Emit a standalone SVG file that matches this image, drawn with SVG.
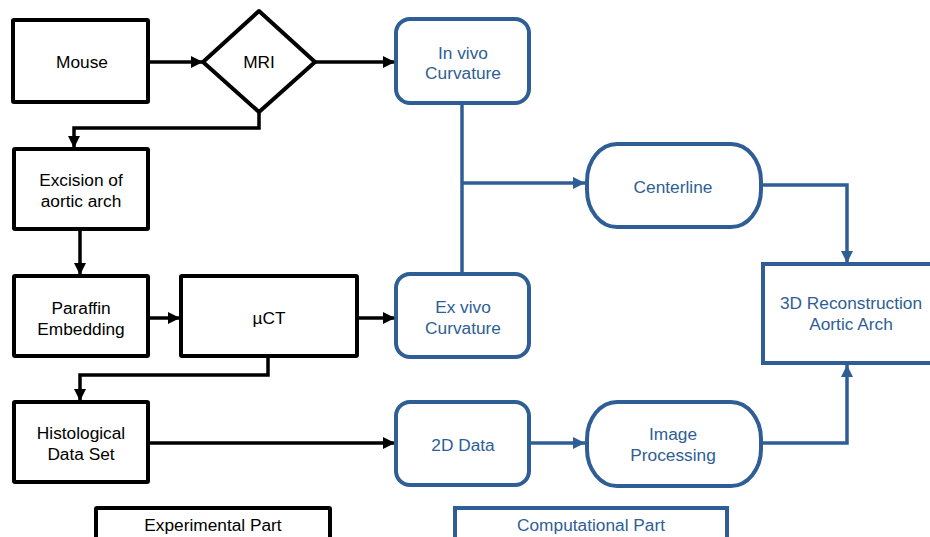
<svg xmlns="http://www.w3.org/2000/svg" width="930" height="537" viewBox="0 0 930 537">
<style>
text{font-family:"Liberation Sans",Arial,sans-serif;font-size:17.3px;text-anchor:middle}
.k{fill:#fff;stroke:#000;stroke-width:4;stroke-linejoin:round}
.b{fill:#fff;stroke:#2E5E95;stroke-width:4}
.kt{fill:#000}
.bt{fill:#2E5E95}
.kl{fill:none;stroke:#000;stroke-width:3.5}
.bl{fill:none;stroke:#2E5E95;stroke-width:3.5}
</style>
<defs>
<marker id="ak" markerUnits="userSpaceOnUse" markerWidth="14" markerHeight="14" refX="13" refY="7" orient="auto"><path d="M1,1 L13,7 L1,13 Z" fill="#000"/></marker>
<marker id="ab" markerUnits="userSpaceOnUse" markerWidth="14" markerHeight="14" refX="13" refY="7" orient="auto"><path d="M1,1 L13,7 L1,13 Z" fill="#2E5E95"/></marker>
</defs>
<g id="connectors">
<path class="kl" d="M150,62 H203" marker-end="url(#ak)"/>
<path class="kl" d="M315,62 H395" marker-end="url(#ak)"/>
<path class="kl" d="M259,112 V128 H74 V148" marker-end="url(#ak)"/>
<path class="kl" d="M80,230 V275" marker-end="url(#ak)"/>
<path class="kl" d="M150,318 H180" marker-end="url(#ak)"/>
<path class="kl" d="M359,318 H395" marker-end="url(#ak)"/>
<path class="kl" d="M268,357 V375 H80 V401" marker-end="url(#ak)"/>
<path class="kl" d="M150,443 H395" marker-end="url(#ak)"/>
<path class="bl" d="M462,105 V273"/>
<path class="bl" d="M462,183 H585" marker-end="url(#ab)"/>
<path class="bl" d="M762,185 H847 V263" marker-end="url(#ab)"/>
<path class="bl" d="M531,443 H585" marker-end="url(#ab)"/>
<path class="bl" d="M762,443 H847 V365" marker-end="url(#ab)"/>
</g>
<g id="mouse"><rect class="k" x="13" y="20" width="135" height="82" rx="1"/><text class="kt" x="82" y="68">Mouse</text></g>
<g id="mri"><path class="k" d="M259,11 L315,62 L259,112 L203,62 Z"/><text class="kt" x="259" y="68">MRI</text></g>
<g id="excision"><rect class="k" x="14" y="149" width="134" height="80" rx="1"/><text class="kt" x="81" y="186">Excision of</text><text class="kt" x="81" y="207">aortic arch</text></g>
<g id="paraffin"><rect class="k" x="14" y="276" width="134" height="80" rx="1"/><text class="kt" x="81" y="314">Paraffin</text><text class="kt" x="81" y="335">Embedding</text></g>
<g id="uct"><rect class="k" x="181" y="276" width="176" height="80" rx="1"/><text class="kt" x="269" y="324">µCT</text></g>
<g id="histological"><rect class="k" x="14" y="402" width="134" height="80" rx="1"/><text class="kt" x="81" y="439">Histological</text><text class="kt" x="81" y="460">Data Set</text></g>
<g id="experimental"><rect class="k" x="96" y="508" width="234" height="40" rx="1"/><text class="kt" x="213" y="531">Experimental Part</text></g>
<g id="invivo"><rect class="b" x="396" y="19" width="133" height="84" rx="14"/><text class="bt" x="463" y="59">In vivo</text><text class="bt" x="463" y="79">Curvature</text></g>
<g id="exvivo"><rect class="b" x="396" y="274" width="133" height="83" rx="14"/><text class="bt" x="463" y="313">Ex vivo</text><text class="bt" x="463" y="334">Curvature</text></g>
<g id="data2d"><rect class="b" x="396" y="402" width="133" height="83" rx="14"/><text class="bt" x="463" y="451">2D Data</text></g>
<g id="centerline"><rect class="b" x="587" y="144" width="174" height="83" rx="30" ry="37"/><text class="bt" x="673" y="193">Centerline</text></g>
<g id="imageproc"><rect class="b" x="587" y="402" width="174" height="84" rx="30" ry="37"/><text class="bt" x="673" y="440">Image</text><text class="bt" x="673" y="461">Processing</text></g>
<g id="recon3d"><rect class="b" x="763" y="264" width="180" height="99"/><text class="bt" x="851" y="309">3D Reconstruction</text><text class="bt" x="851" y="330">Aortic Arch</text></g>
<g id="computational"><rect class="b" x="455" y="508" width="272" height="40"/><text class="bt" x="591" y="531">Computational Part</text></g>
</svg>
